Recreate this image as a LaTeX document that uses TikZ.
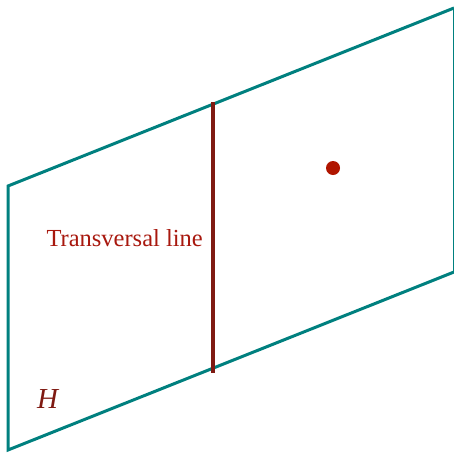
\documentclass[tikz,border=0pt]{standalone}
\usepackage{fontspec}
\setmainfont{Liberation Serif}
\definecolor{planeteal}{HTML}{00807F}
\definecolor{linered}{HTML}{7F1A12}
\definecolor{textred}{HTML}{A8180E}
\definecolor{dotred}{HTML}{B01500}
\begin{document}
\begin{tikzpicture}[x=1pt,y=-1pt,
  plane/.style={draw=planeteal,line width=3pt,line join=miter},
  transversal/.style={draw=linered,line width=3.5pt},
  lbl/.style={inner sep=0pt,font=\fontsize{24.5}{28}\selectfont,text=textred}]
\useasboundingbox (0,0) rectangle (454,453);
\coordinate (A) at (8,186);
\coordinate (B) at (454,8);
\coordinate (C) at (454,272);
\coordinate (D) at (8,450);
\draw[plane] (B) -- (A) -- (D) -- (C);
\draw[plane] (B) -- (C);
\coordinate (T) at (213,102);
\coordinate (U) at (213,373);
\draw[transversal] (T) -- (U);
\node[lbl,anchor=base east] (tl) at (203,246) {Transversal line};
\node[inner sep=0pt,font=\fontsize{29}{33}\selectfont\itshape,text=linered,anchor=base west] (h) at (37,408) {H};
\node[circle,fill=dotred,inner sep=0pt,minimum size=14pt] (p) at (333,168) {};
\end{tikzpicture}
\end{document}
